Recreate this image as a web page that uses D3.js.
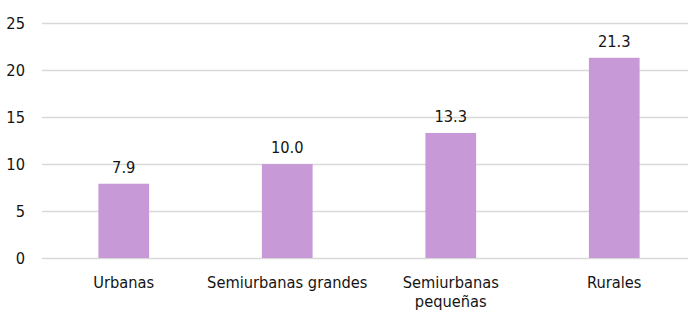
<!DOCTYPE html>
<html>
<head>
<meta charset="utf-8">
<script src="https://cdn.jsdelivr.net/npm/d3@7"></script>
<style>
  body { margin: 0; background: #fff; }
  text { font-family: "DejaVu Sans Condensed", "DejaVu Sans", sans-serif; font-stretch: condensed; }
</style>
</head>
<body>
<div id="chart"></div>
<script>
// chart data
var categories = ["Urbanas", "Semiurbanas grandes", "Semiurbanas pequeñas", "Rurales"];
var values = [7.9, 10.0, 13.3, 21.3];
var yTicks = [0, 5, 10, 15, 20, 25];

var width = 688, height = 312;
var margin = {top: 23, right: -8, bottom: 54, left: 42};
var fontSize = "16.3px";

var svg = d3.select("#chart")
  .append("svg")
    .attr("width", width)
    .attr("height", height);

// scales
var x = d3.scaleBand()
  .domain(categories)
  .range([margin.left, width - margin.right])
  .paddingInner(0.69)
  .paddingOuter(0.345);

var y = d3.scaleLinear()
  .domain([0, 25])
  .range([height - margin.bottom, margin.top]);

// gridlines + y labels
var yAxis = d3.axisLeft(y)
  .tickValues(yTicks)
  .tickSize(-(width - margin.left))
  .tickPadding(17)
  .tickFormat(d3.format("d"));

var gy = svg.append("g")
  .attr("transform", "translate(" + margin.left + ",0)")
  .call(yAxis);
gy.select(".domain").remove();
gy.selectAll(".tick line").attr("stroke", "#d9d9d9").attr("stroke-width", 1.3);
gy.selectAll(".tick text")
  .attr("fill", "#141414")
  .style("font-size", fontSize);

// bars
svg.selectAll(".bar")
  .data(values)
  .enter().append("rect")
    .attr("class", "bar")
    .attr("x", function(d, i) { return x(categories[i]); })
    .attr("y", function(d) { return y(d); })
    .attr("width", x.bandwidth())
    .attr("height", function(d) { return y(0) - y(d); })
    .attr("fill", "#c799d6");

// value labels
svg.selectAll(".val")
  .data(values)
  .enter().append("text")
    .attr("class", "val")
    .attr("x", function(d, i) { return x(categories[i]) + x.bandwidth() / 2; })
    .attr("y", function(d) { return y(d) - 11; })
    .attr("text-anchor", "middle")
    .attr("fill", "#141414")
    .style("font-size", fontSize)
    .text(function(d) { return d.toFixed(1); });

// x labels, wrapped when wider than the band step
var step = x.step();
var gx = svg.append("g");
categories.forEach(function(c) {
  var t = gx.append("text")
    .attr("x", x(c) + x.bandwidth() / 2)
    .attr("y", y(0) + 30)
    .attr("text-anchor", "middle")
    .attr("fill", "#141414")
    .style("font-size", fontSize)
    .text(c);
  if (t.node().getComputedTextLength() > step - 2) {
    var words = c.split(" ");
    t.text(null);
    words.forEach(function(w, k) {
      t.append("tspan")
        .attr("x", x(c) + x.bandwidth() / 2)
        .attr("dy", k === 0 ? 0 : 19)
        .text(w);
    });
  }
});
</script>
</body>
</html>
